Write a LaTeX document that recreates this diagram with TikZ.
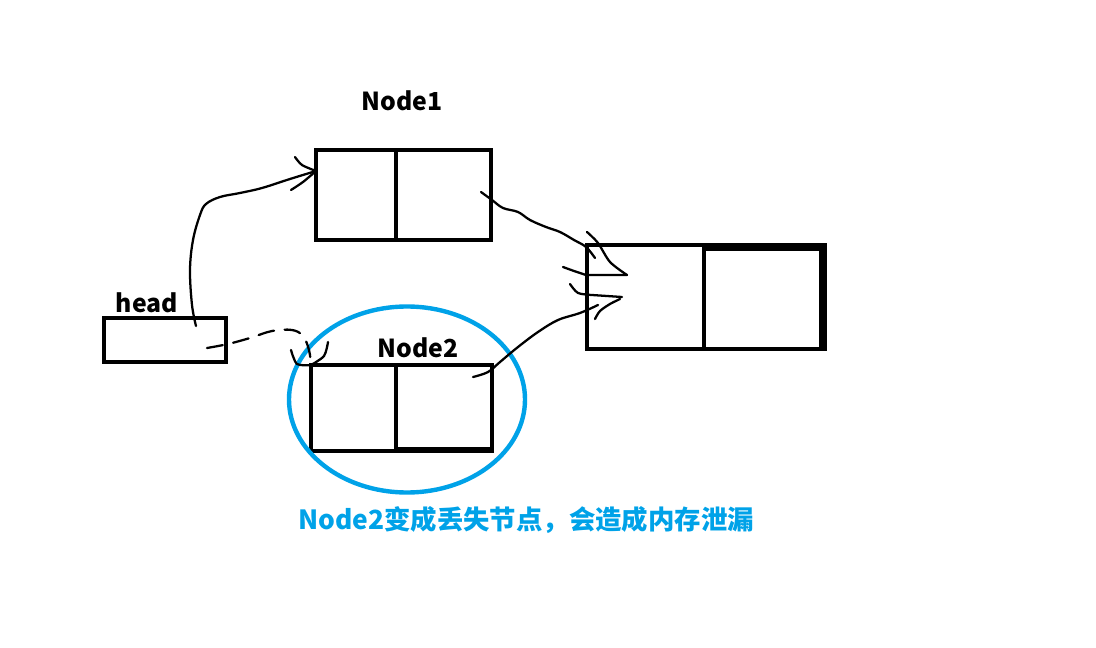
\documentclass[tikz,border=0pt]{standalone}
\usepackage{fontspec}
\usetikzlibrary{shapes.geometric}
\setmainfont{Noto Sans CJK SC}
\definecolor{paintblue}{HTML}{00A2E8}
\begin{document}
\begin{tikzpicture}[x=0.75pt,y=-0.75pt,
  cell/.style={draw=black,line width=3.3pt,inner sep=0pt,outer sep=0pt},
  lbl/.style={font=\bfseries\fontsize{18.6}{20}\selectfont,inner sep=0pt},
  ink/.style={line width=1.7pt,line cap=round,line join=round},
  inkdash/.style={ink,dash pattern=on 12pt off 8pt}]
\useasboundingbox (0,0) rectangle (1096,648);
% boxes
\node[cell,minimum width={122*0.75pt},minimum height={44*0.75pt}] (head) at (165,340) {};
\node[cell,minimum width={80*0.75pt},minimum height={90*0.75pt}] (n1a) at (356,195) {};
\node[cell,minimum width={95*0.75pt},minimum height={90*0.75pt}] (n1b) at (443.5,195) {};
\node[cell,minimum width={85*0.75pt},minimum height={86*0.75pt}] (n2a) at (353.5,408) {};
\node[cell,minimum width={96*0.75pt},minimum height={86*0.75pt}] (n2b) at (444,408) {};
\node[cell,minimum width={117*0.75pt},minimum height={104*0.75pt}] (n3a) at (645.5,297) {};
\node[cell,minimum width={121*0.75pt},minimum height={104*0.75pt}] (n3b) at (764.5,297) {};
% thicker strokes
\draw[line width=5.5pt] ([yshift=-1.8pt]n3b.north west) -- ([yshift=-1.8pt]n3b.north east);
\draw[line width=5.5pt] ([xshift=-2pt]n3b.north east) -- ([xshift=-2pt]n3b.south east);
\draw[line width=4.5pt] ([yshift=1pt]n2b.south west) -- ([yshift=1pt]n2b.south east);
% labels
\node[lbl] (lhead) at (147,303) {head};
\node[lbl] (ln1) at (402,101) {Node1};
\node[lbl] (ln2) at (418,348) {Node2};
% ellipse
\node[draw=paintblue,line width=3.3pt,ellipse,minimum width={236*0.75pt},minimum height={186*0.75pt},inner sep=0pt] (leak) at (407,399.5) {};
\node[font=\bfseries\fontsize{19.8}{22}\selectfont,text=paintblue,inner sep=0pt] (cap) at (526,520) {Node2变成丢失节点，会造成内存泄漏};
% connector endpoints
\coordinate (h1) at (196,326);
\coordinate (h2) at (207,348);
\coordinate (e1) at (n1a.west |- 0,171);
\coordinate (e2) at (n2a.north west);
\coordinate (s3) at (481,192);
\coordinate (s4) at (473,377);
\coordinate (t3) at (627,275);
\coordinate (t4) at (622,297);
% head -> Node1
\draw[ink] plot[smooth,tension=0.6] coordinates {(h1) (192,305) (190,270) (193,240) (200,215) (206,204) (220,197) (240,193) (262,188) (290,179) (e1)};
\draw[ink] plot[smooth] coordinates {(295,157) (302,165) (e1)};
\draw[ink] plot[smooth] coordinates {(291,190) (303,182) (e1)};
% head -> Node2 (dashed)
\draw[inkdash] plot[smooth,tension=0.6] coordinates {(h2) (228,344) (250,338) (272,331) (292,330) (303,336) (309,350) (e2)};
\draw[ink] plot[smooth] coordinates {(291,350) (297,364) (e2)};
\draw[ink] plot[smooth] coordinates {(328,342) (324,356) (e2)};
% Node1 -> Node3
\draw[ink] plot[smooth,tension=0.6] coordinates {(s3) (492,200) (503,208) (518,212) (530,220) (546,227) (560,232) (574,240) (586,247) (595,258)};
\draw[ink] plot[smooth] coordinates {(587,232) (598,243) (610,262) (t3)};
\draw[ink] plot[smooth] coordinates {(563,267) (574,271) (586,275)} -- (t3);
% Node2 -> Node3
\draw[ink] plot[smooth,tension=0.6] coordinates {(s4) (488,372) (500,362) (518,347) (538,332) (558,320) (580,313) (598,305)};
\draw[ink] plot[smooth] coordinates {(570,284) (578,293) (592,295)} -- (t4);
\draw[ink] plot[smooth] coordinates {(595,319) (600,311) (610,304) (620,299)};
\end{tikzpicture}
\end{document}
